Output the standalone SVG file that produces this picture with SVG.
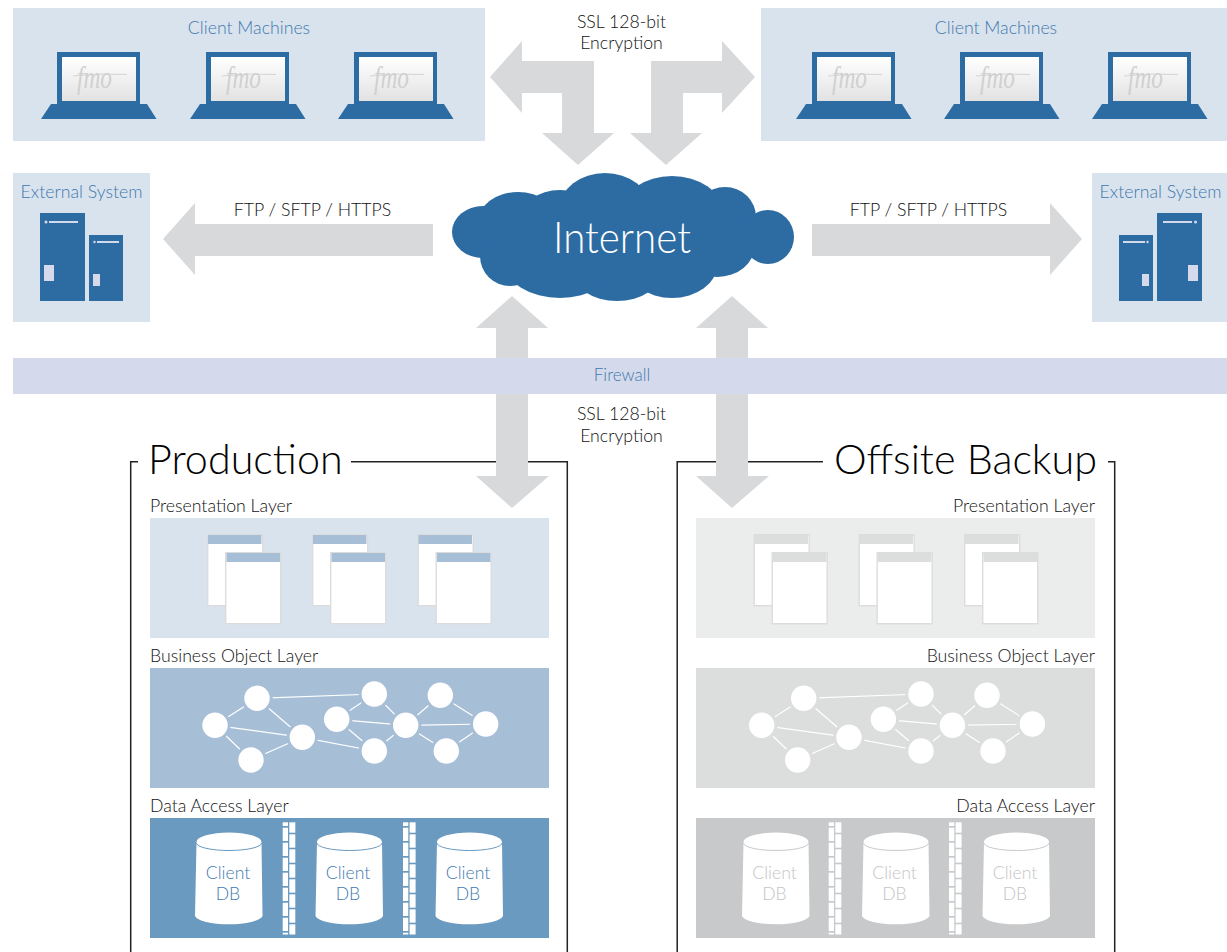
<svg xmlns="http://www.w3.org/2000/svg" width="1227" height="952" viewBox="0 0 1227 952">
<style>
text{font-family:"Lato","Open Sans","Liberation Sans",sans-serif;font-weight:300}
.m{text-anchor:middle}.e{text-anchor:end}
.b{fill:#3f78ad;font-size:17.700px}
.d{fill:#111;font-size:17.700px}
.t{fill:#000;font-size:41.300px}
.c{font-size:17.600px}
.a{fill:#d8d9db}
.p{fill:#d9e3ed}
.u{fill:#2d6ca3}
.k{fill:#d4daec}
.fm{font-family:"Liberation Serif",serif;font-style:italic;font-weight:400;font-size:31px;fill:#d0d0d0}
.bx{fill:none;stroke:#222;stroke-width:1.500}
</style>
<defs>
<linearGradient id="scr" x1="0" y1="0" x2="0" y2="1"><stop offset="0" stop-color="#fff"/><stop offset="1" stop-color="#e2e2e2"/></linearGradient>
<g id="laptop">
<rect class="u" x="57" y="52" width="83" height="54"/>
<rect x="62" y="57" width="74" height="44" fill="url(#scr)"/>
<path class="u" d="M51,104H147L156.500,119H41Z"/>
<path d="M73,76Q100,73 127,74.500" fill="none" stroke="#d4d4d4" stroke-width="1"/>
</g>
<g id="win">
<rect x="207.700" y="534.700" width="55" height="71" fill="#fff" stroke="var(--s)" stroke-width="1.400"/>
<rect x="208" y="535" width="53.500" height="9" fill="var(--h)"/>
<rect x="225.700" y="552.700" width="55" height="71" fill="#fff" stroke="var(--s)" stroke-width="1.400"/>
<rect x="226.500" y="553" width="53.500" height="9" fill="var(--h)"/>
</g>
<g id="graph" stroke="#fff" stroke-width="1.200">
<path d="M215,725.300L257,698.300M215,725.300L302.300,737.300M215,725.300L251,760M251,760L302.300,737.300M257,698.300L302.300,737.300M257,698.300L374.300,694M302.300,737.300L374.300,751M374.300,694L336.700,719.300M374.300,694L405.700,725.300M336.700,719.300L405.700,725.300M336.700,719.300L374.300,751M374.300,751L405.700,725.300M405.700,725.300L440.300,695.300M405.700,725.300L485.700,724M405.700,725.300L446.300,751M440.300,695.300L485.700,724M446.300,751L485.700,724" fill="none"/>
<g fill="#fff" stroke="var(--p)" stroke-width="3">
<circle cx="215" cy="725.300" r="14.200"/><circle cx="257" cy="698.300" r="14.200"/><circle cx="302.300" cy="737.300" r="14.200"/><circle cx="251" cy="760" r="14.200"/><circle cx="374.300" cy="694" r="14.200"/><circle cx="336.700" cy="719.300" r="14.200"/><circle cx="405.700" cy="725.300" r="14.200"/><circle cx="374.300" cy="751" r="14.200"/><circle cx="440.300" cy="695.300" r="14.200"/><circle cx="485.700" cy="724" r="14.200"/><circle cx="446.300" cy="751" r="14.200"/>
</g>
</g>
<g id="db">
<path d="M196.500,842A32.500,9.500 0 0 1 261.500,842L262.500,916A34,9.500 0 0 1 195,916Z" fill="#fff"/>
<path d="M196.500,843A32.500,7.500 0 0 0 261.500,843" fill="none" stroke="var(--p)" stroke-width="1"/>
</g>
<g id="wall" fill="#fff">
<rect x="282.700" y="822.300" width="5.300" height="3.700"/><rect x="282.700" y="827.700" width="5.300" height="13.300"/><rect x="282.700" y="842.700" width="5.300" height="13.300"/><rect x="282.700" y="857.700" width="5.300" height="13.300"/><rect x="282.700" y="872.700" width="5.300" height="13.300"/><rect x="282.700" y="887.700" width="5.300" height="13.300"/><rect x="282.700" y="902.700" width="5.300" height="13.300"/><rect x="282.700" y="917.700" width="5.300" height="13.300"/><rect x="282.700" y="932.700" width="5.300" height="1.800"/>
<rect x="289.300" y="822.300" width="6" height="10.400"/><rect x="289.300" y="834.300" width="6" height="13.400"/><rect x="289.300" y="849.300" width="6" height="13.400"/><rect x="289.300" y="864.300" width="6" height="13.400"/><rect x="289.300" y="879.300" width="6" height="13.400"/><rect x="289.300" y="894.300" width="6" height="13.400"/><rect x="289.300" y="909.300" width="6" height="13.400"/><rect x="289.300" y="924.300" width="6" height="10.200"/>
</g>
</defs>

<g id="client-machines-left">
<rect class="p" x="13" y="8" width="472" height="133"/>
<text class="b m" x="249" y="34">Client Machines</text>
<use href="#laptop"/><text class="fm" x="77" y="88" textLength="35" lengthAdjust="spacingAndGlyphs">fmo</text>
<use href="#laptop" x="149"/><text class="fm" x="226" y="88" textLength="35" lengthAdjust="spacingAndGlyphs">fmo</text>
<use href="#laptop" x="297"/><text class="fm" x="374" y="88" textLength="35" lengthAdjust="spacingAndGlyphs">fmo</text>
</g>
<g id="client-machines-right">
<rect class="p" x="761" y="8" width="466" height="133"/>
<text class="b m" x="996" y="34">Client Machines</text>
<use href="#laptop" x="755"/><text class="fm" x="832" y="88" textLength="35" lengthAdjust="spacingAndGlyphs">fmo</text>
<use href="#laptop" x="903"/><text class="fm" x="980" y="88" textLength="35" lengthAdjust="spacingAndGlyphs">fmo</text>
<use href="#laptop" x="1051"/><text class="fm" x="1128" y="88" textLength="35" lengthAdjust="spacingAndGlyphs">fmo</text>
</g>
<g id="external-system-left">
<rect class="p" x="13" y="173" width="137" height="149"/>
<text class="b m" x="81.500" y="198">External System</text>
<rect class="u" x="40" y="213" width="45" height="88"/><rect class="u" x="89" y="235" width="34" height="66"/>
<circle class="k" cx="46" cy="222" r="1.500"/><rect class="k" x="49" y="221" width="29" height="2"/><rect class="k" x="44" y="265" width="10" height="16"/>
<circle class="k" cx="94.500" cy="242" r="1.200"/><rect class="k" x="97" y="241" width="22" height="2"/><rect class="k" x="93" y="274" width="7" height="12"/>
</g>
<g id="external-system-right">
<rect class="p" x="1092" y="173" width="135" height="149"/>
<text class="b m" x="1160.500" y="198">External System</text>
<rect class="u" x="1157" y="213" width="45" height="88"/><rect class="u" x="1119" y="235" width="34" height="66"/>
<circle class="k" cx="1195.500" cy="222" r="1.500"/><rect class="k" x="1163" y="221" width="29" height="2"/><rect class="k" x="1188" y="265" width="10" height="16"/>
<circle class="k" cx="1147.500" cy="242" r="1.200"/><rect class="k" x="1123" y="241" width="22" height="2"/><rect class="k" x="1142" y="274" width="7" height="12"/>
</g>

<g id="production">
<path class="bx" d="M130.700,952V461.700H138M351,461.700H567.300V952"/>
<text class="t" x="148" y="474">Production</text>
<text class="d" x="150" y="512">Presentation Layer</text>
<rect class="p" x="150" y="518" width="399" height="120"/>
<g style="--s:#dcdcdc;--h:#a6bed6"><use href="#win"/><use href="#win" x="105"/><use href="#win" x="210.500"/></g>
<text class="d" x="150" y="662">Business Object Layer</text>
<rect x="150" y="668" width="399" height="120" fill="#a6bed6"/>
<use href="#graph" style="--p:#a6bed6"/>
<text class="d" x="150" y="812">Data Access Layer</text>
<rect x="150" y="818" width="399" height="120" fill="#6b9ac0"/>
<g style="--p:#6b9ac0"><use href="#db"/><use href="#db" x="120.500"/><use href="#db" x="240.500"/></g>
<use href="#wall"/><use href="#wall" x="120.300"/>
<g fill="#4079b0"><text class="m c" x="228" y="879">Client</text><text class="m c" x="228" y="900">DB</text><text class="m c" x="348" y="879">Client</text><text class="m c" x="348" y="900">DB</text><text class="m c" x="468" y="879">Client</text><text class="m c" x="468" y="900">DB</text></g>
</g>
<g id="offsite-backup">
<path class="bx" d="M677.200,952V461.700H823M1108,461.700H1114.700V952"/>
<text class="t e" x="1097" y="474">Offsite Backup</text>
<text class="d e" x="1095" y="512">Presentation Layer</text>
<rect x="696" y="518" width="399" height="120" fill="#ebecec"/>
<g style="--s:#dcdcdc;--h:#dcdddd"><use href="#win" x="546.500"/><use href="#win" x="651.500"/><use href="#win" x="757"/></g>
<text class="d e" x="1095" y="662">Business Object Layer</text>
<rect x="696" y="668" width="399" height="120" fill="#dcdddd"/>
<use href="#graph" x="546.700" style="--p:#dcdddd"/>
<text class="d e" x="1095" y="812">Data Access Layer</text>
<rect x="696" y="818" width="399" height="120" fill="#c8c9ca"/>
<g style="--p:#c8c9ca"><use href="#db" x="547"/><use href="#db" x="667"/><use href="#db" x="787.500"/></g>
<use href="#wall" x="546"/><use href="#wall" x="666.300"/>
<g fill="#c4c5c6"><text class="m c" x="774.500" y="879">Client</text><text class="m c" x="774.500" y="900">DB</text><text class="m c" x="894.500" y="879">Client</text><text class="m c" x="894.500" y="900">DB</text><text class="m c" x="1015" y="879">Client</text><text class="m c" x="1015" y="900">DB</text></g>
</g>

<g id="connectors">
<path class="a" d="M490,77L522,41V61H594V133H614L578,165L542,133H562V93H522V113Z"/>
<path class="a" d="M755,77L722,41V61H651V133H630L666,165L702,133H683V93H722V113Z"/>
<path class="a" d="M163,239L195,203V224H433V256H195V275Z"/>
<path class="a" d="M1082,239L1050,203V224H812V256H1050V275Z"/>
<path class="a" d="M512,296L548,328H528V476H549L512,508L476,476H496V328H476Z"/>
<path class="a" d="M732,296L768,328H748V476H769L732,508L696,476H716V328H696Z"/>
</g>
<g id="connector-labels">
<text class="d m" x="621.500" y="28">SSL 128-bit</text>
<text class="d m" x="621.500" y="49">Encryption</text>
<text class="d m" x="312.500" y="215.500">FTP / SFTP / HTTPS</text>
<text class="d m" x="928.500" y="215.500">FTP / SFTP / HTTPS</text>
<text class="d m" x="621.500" y="420">SSL 128-bit</text>
<text class="d m" x="621.500" y="442">Encryption</text>
</g>
<g id="firewall">
<rect class="k" x="13" y="358" width="1214" height="36"/>
<text class="m" style="fill:#3f78ad;font-size:17px" x="622" y="380.500">Firewall</text>
</g>
<g id="internet">
<g class="u">
<ellipse cx="483" cy="232" rx="31" ry="26"/><ellipse cx="518" cy="222" rx="40" ry="30"/><ellipse cx="560" cy="220" rx="40" ry="30"/><ellipse cx="605" cy="208" rx="45" ry="35"/><ellipse cx="672" cy="211" rx="50" ry="35"/><ellipse cx="725" cy="217" rx="31" ry="30"/><ellipse cx="768" cy="237" rx="26" ry="27"/><ellipse cx="717" cy="245" rx="38" ry="32"/><ellipse cx="672" cy="265" rx="45" ry="33"/><ellipse cx="617" cy="270" rx="45" ry="31"/><ellipse cx="560" cy="263" rx="55" ry="35"/><ellipse cx="510" cy="256" rx="30" ry="30"/><rect x="510" y="205" width="220" height="70"/>
</g>
<text style="fill:#fff;font-size:44px" x="553" y="253" textLength="138" lengthAdjust="spacingAndGlyphs">Internet</text>
</g>
</svg>
